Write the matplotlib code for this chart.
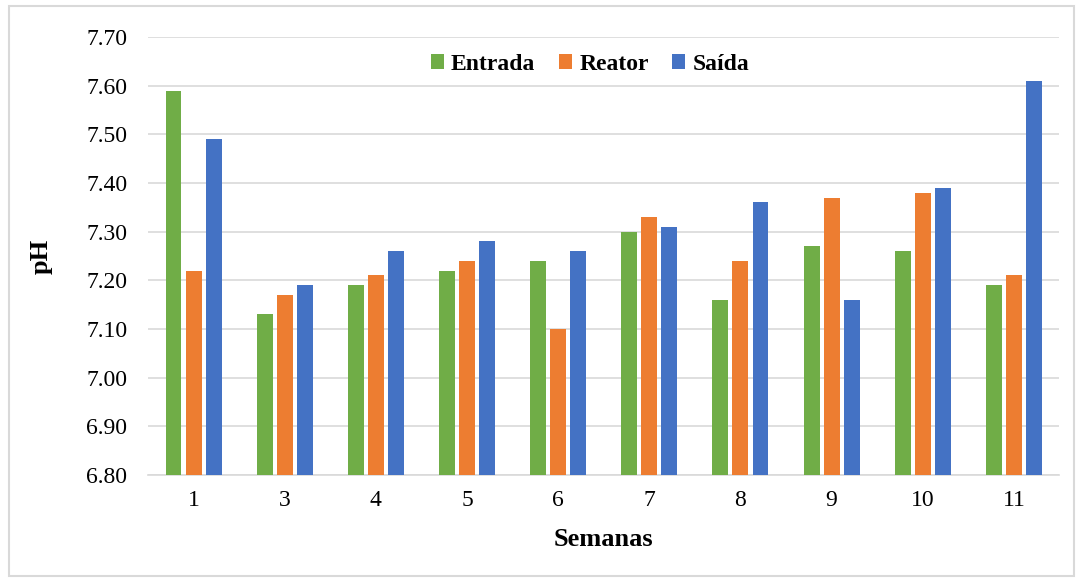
import matplotlib
matplotlib.use("Agg")
import matplotlib.pyplot as plt
import numpy as np
from matplotlib.patches import Rectangle

semanas = ["1", "3", "4", "5", "6", "7", "8", "9", "10", "11"]
entrada = [7.59, 7.13, 7.19, 7.22, 7.24, 7.30, 7.16, 7.27, 7.26, 7.19]
reator = [7.22, 7.17, 7.21, 7.24, 7.10, 7.33, 7.24, 7.37, 7.38, 7.21]
saida = [7.49, 7.19, 7.26, 7.28, 7.26, 7.31, 7.36, 7.16, 7.39, 7.61]
yticks = [6.80, 6.90, 7.00, 7.10, 7.20, 7.30, 7.40, 7.50, 7.60, 7.70]

plt.rcParams['font.family'] = ['Liberation Serif', 'DejaVu Serif']

fig = plt.figure(figsize=(10.8, 5.79), dpi=100)
ax = fig.add_axes([0.137, 0.180, 0.844, 0.756])

x = np.arange(len(semanas))
w = 0.175
off = 0.22
base = 6.80
ax.bar(x - off, np.array(entrada) - base, w, bottom=base, color="#70ad47", label="Entrada", zorder=3)
ax.bar(x, np.array(reator) - base, w, bottom=base, color="#ed7d31", label="Reator", zorder=3)
ax.bar(x + off, np.array(saida) - base, w, bottom=base, color="#4472c4", label="Saída", zorder=3)

ax.set_xlim(-0.5, len(semanas) - 0.5)
ax.set_ylim(6.80, 7.70)
ax.set_yticks(yticks)
ax.set_yticklabels([f"{v:.2f}" for v in yticks])
ax.set_xticks(x)
ax.set_xticklabels(semanas)
ax.tick_params(axis='both', length=0, labelsize=17, colors="#000000")
ax.tick_params(axis='y', pad=15)
ax.tick_params(axis='x', pad=11)
ax.grid(axis='y', color="#d9d9d9", linewidth=1.2, zorder=0)
for s in ["top", "right", "left"]:
    ax.spines[s].set_visible(False)
ax.spines["bottom"].set_color("#d9d9d9")
ax.spines["bottom"].set_linewidth(1.2)

ax.set_xlabel("Semanas", fontsize=19, fontweight="bold", labelpad=12)
ax.set_ylabel("pH", fontsize=19, fontweight="bold", labelpad=24)

leg = ax.legend(loc="upper center", bbox_to_anchor=(0.485, 1.01), ncol=3, frameon=False,
                prop={'weight': 'bold', 'size': 17}, handlelength=0.55, handleheight=0.55,
                handletextpad=0.3, columnspacing=1.0)

fig.patches.append(Rectangle((0.008, 0.005), 0.986, 0.985, transform=fig.transFigure,
                             fill=False, edgecolor="#d9d9d9", linewidth=1.5))

fig.savefig("out.png", dpi=100)
